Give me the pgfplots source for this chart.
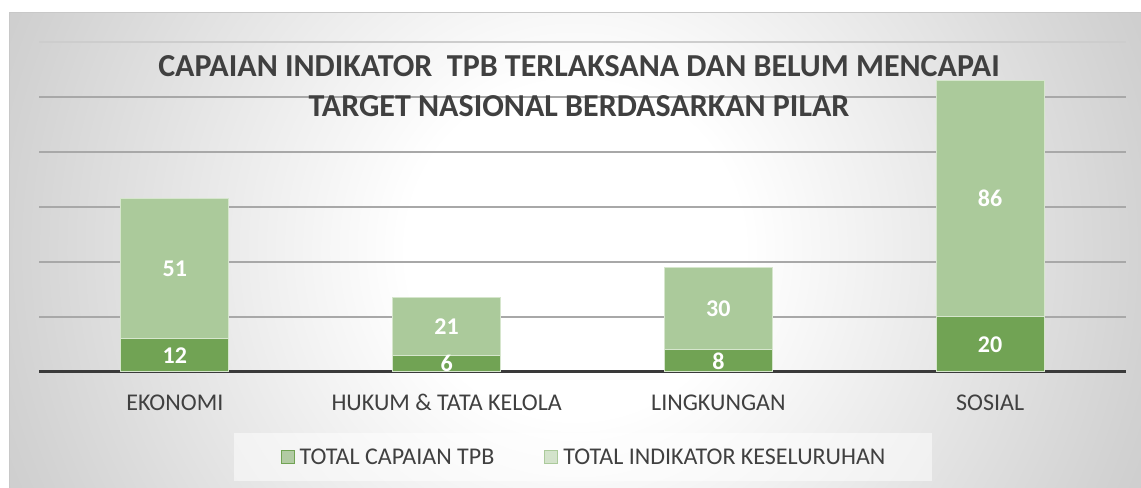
\documentclass[border=0pt]{standalone}
\usepackage{pgfplots}
\pgfplotsset{compat=1.18}
\usepackage{fontspec}
\setmainfont{Carlito}
\definecolor{dgreen}{RGB}{113,163,84}
\definecolor{lgreen}{RGB}{171,202,155}
\definecolor{barline}{RGB}{214,230,205}
\definecolor{gridc}{RGB}{168,168,168}
\definecolor{gridtop}{RGB}{205,205,205}
\definecolor{txt}{RGB}{64,64,64}
\definecolor{basec}{RGB}{58,58,58}
\definecolor{bgA}{RGB}{210,210,210}
\definecolor{bgB}{RGB}{196,196,196}
\definecolor{brd}{RGB}{200,200,200}
\pgfdeclareradialshading{bgshade}{\pgfpoint{0bp}{0bp}}{color(0bp)=(white); color(7bp)=(white); color(24bp)=(bgA); color(30bp)=(bgB); color(50bp)=(bgB)}
\begin{document}
\begin{tikzpicture}
\fill[white] (0,0) rectangle (1141bp,488bp);
\begin{scope}
\clip (9bp,0) rectangle (1141bp,475bp);
\shade[shading=bgshade] (-25bp,-362bp) rectangle (1175bp,838bp);
\end{scope}
\draw[brd, line width=1bp] (9bp,0) -- (9bp,475bp) -- (1141bp,475bp);
\begin{axis}[
  at={(39bp,116bp)}, anchor=south west, scale only axis,
  width=1087bp, height=330bp,
  xmin=-0.5, xmax=3.5, ymin=0, ymax=120,
  ybar stacked, bar width=108bp,
  clip=false,
  axis line style={draw=none},
  major tick length=0pt,
  ytick={20,40,...,100}, yticklabels={},
  extra y ticks={120}, extra y tick labels={},
  extra y tick style={grid style={gridtop, line width=1.3bp}},
  ymajorgrids, grid style={gridc, line width=1.3bp},
  xtick={0,1,2,3},
  xticklabels={EKONOMI, HUKUM \& TATA KELOLA, LINGKUNGAN, SOSIAL},
  xticklabel style={font=\fontsize{24bp}{28bp}\selectfont, text=txt, inner sep=0pt, anchor=base},
  xticklabel shift=38.5bp,
  legend columns=2,
  legend style={at={(0.5005,-0.2576)}, anchor=center, fill=white, fill opacity=0.5, text opacity=1, draw=none,
    inner xsep=47bp, inner ysep=15.5bp, font=\fontsize{24bp}{28bp}\selectfont, text=txt,
    nodes={inner sep=0pt},
    /tikz/every odd column/.append style={column sep=5bp},
    /tikz/every even column/.append style={column sep=50bp}},
]
\addplot[fill=dgreen, draw=barline, line width=1bp,
  legend image code/.code={\fill[dgreen] (0bp,-6.5bp) rectangle (13bp,6.5bp);}]
  coordinates {(0,12) (1,6) (2,8) (3,20)};
\addlegendentry{TOTAL CAPAIAN TPB}
\addplot[fill=lgreen, draw=barline, line width=1bp,
  legend image code/.code={\fill[lgreen] (0bp,-6.5bp) rectangle (13bp,6.5bp);}]
  coordinates {(0,51) (1,21) (2,30) (3,86)};
\addlegendentry{TOTAL INDIKATOR KESELURUHAN}
\draw[basec, line width=3bp] (axis cs:-0.5,0) -- (axis cs:3.5,0);
\end{axis}
\begin{axis}[
  at={(39bp,116bp)}, anchor=south west, scale only axis,
  width=1087bp, height=330bp,
  xmin=-0.5, xmax=3.5, ymin=0, ymax=120,
  hide axis, clip=false]
\addplot[draw=none, mark=none, nodes near coords, point meta=explicit symbolic,
  every node near coord/.append style={anchor=center, inner sep=0pt,
    font=\bfseries\fontsize{24bp}{28bp}\selectfont, text=white}]
  coordinates {(0,6)[12] (1,3)[6] (2,4)[8] (3,10)[20]
               (0,37.5)[51] (1,16.5)[21] (2,23)[30] (3,63)[86]};
\end{axis}
\node[align=center, inner sep=0pt, text=txt, font=\bfseries\fontsize{32bp}{40bp}\selectfont]
  at (579bp,401.5bp) {CAPAIAN INDIKATOR\ \ TPB TERLAKSANA DAN BELUM MENCAPAI\\TARGET NASIONAL BERDASARKAN PILAR};
\pgfresetboundingbox
\useasboundingbox (0,0) rectangle (1141bp,488bp);
\end{tikzpicture}
\end{document}
